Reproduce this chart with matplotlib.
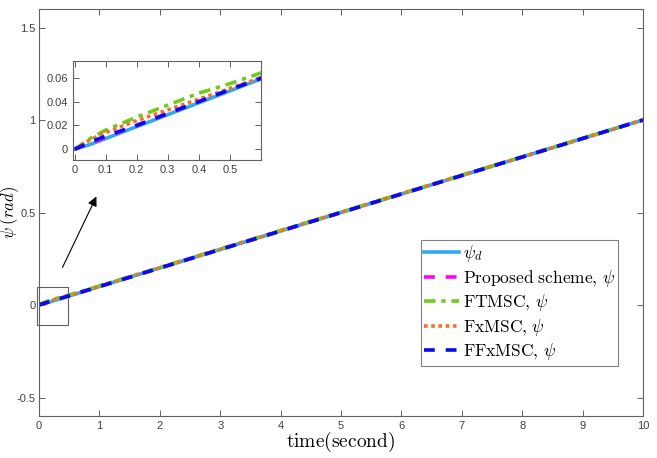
import matplotlib

matplotlib.use("Agg")
import matplotlib.pyplot as plt
from matplotlib.patches import Rectangle

plt.rcParams["font.family"] = ["Liberation Sans", "DejaVu Sans"]
plt.rcParams["mathtext.fontset"] = "cm"

# time samples (s) and heading angle (rad)
t = [0, 0.05, 0.1, 0.2, 0.3, 0.4, 0.5, 0.6, 1, 2, 3, 4, 5, 6, 7, 8, 9, 10]
psi_d = [0, 0.004, 0.009, 0.019, 0.029, 0.039, 0.049, 0.059,
         0.1, 0.2, 0.3, 0.4, 0.5, 0.6, 0.7, 0.8, 0.9, 1.0]
psi_prop = [0, 0.005, 0.010, 0.020, 0.030, 0.040, 0.050, 0.060,
            0.1, 0.2, 0.3, 0.4, 0.5, 0.6, 0.7, 0.8, 0.9, 1.0]
psi_ftmsc = [0, 0.009, 0.016, 0.027, 0.037, 0.047, 0.055, 0.064,
             0.103, 0.203, 0.303, 0.403, 0.502, 0.602, 0.702, 0.801, 0.901, 1.0]
psi_fxmsc = [0, 0.008, 0.014, 0.024, 0.033, 0.042, 0.051, 0.060,
             0.101, 0.201, 0.301, 0.401, 0.501, 0.601, 0.701, 0.8, 0.9, 1.0]
psi_ffxmsc = [0, 0.006, 0.011, 0.020, 0.030, 0.040, 0.050, 0.0595,
              0.1, 0.2, 0.3, 0.4, 0.5, 0.6, 0.7, 0.8, 0.9, 1.0]

SERIES = [
    (psi_d, "#2fa8f0", "-", r"$\psi_d$"),
    (psi_prop, "#ff00ff", (0, (3, 3)), r"$\mathrm{Proposed\ scheme,}\,\psi$"),
    (psi_ftmsc, "#6fcc1a", (0, (3.2, 1.6, 1.2, 1.6)), r"$\mathrm{FTMSC,}\,\psi$"),
    (psi_fxmsc, "#ff6a2a", (0, (1, 1)), r"$\mathrm{FxMSC,}\,\psi$"),
    (psi_ffxmsc, "#0a0af0", (0, (3, 3)), r"$\mathrm{FFxMSC,}\,\psi$"),
]
EDGE = "#606060"


def style_axes(ax, size):
    for s in ax.spines.values():
        s.set_color(EDGE)
        s.set_linewidth(0.8)
    ax.tick_params(direction="in", top=True, right=True, length=4,
                   width=0.7, color=EDGE, labelsize=size, labelcolor="#404040")


fig = plt.figure(figsize=(6.57, 4.58), dpi=100)
ax = fig.add_axes([39 / 657, 1 - 416 / 458, 604 / 657, 407 / 458])
for y, c, ls, lab in SERIES:
    ax.plot(t, y, color=c, ls=ls, lw=2.6, label=lab)
ax.set_xlim(0, 10)
ax.set_ylim(-0.6, 1.6)
ax.set_xticks(range(0, 11))
ax.set_yticks([-0.5, 0, 0.5, 1, 1.5])
ax.set_yticklabels(["-0.5", "0", "0.5", "1", "1.5"])
style_axes(ax, 8)
ax.tick_params(axis="y", pad=2.5)
ax.set_xlabel(r"$\mathrm{time(second)}$", fontsize=14, labelpad=-1)
ax.set_ylabel(r"$\psi\;(rad)$", fontsize=12)
ax.yaxis.set_label_coords(-0.029, 0.5)

leg = ax.legend(loc="upper left", bbox_to_anchor=(382 / 604, 1 - 231 / 407),
                fontsize=12.5, frameon=True, fancybox=False, handlelength=2.0,
                handletextpad=0.2, borderpad=0.2, labelspacing=0.2,
                borderaxespad=0)
leg.get_frame().set_edgecolor(EDGE)
leg.get_frame().set_linewidth(0.8)

# zoom box and arrow
ax.add_patch(Rectangle((-0.03, -0.11), 0.51, 0.21, fill=False,
                       ec=EDGE, lw=0.8, clip_on=False))
ax.annotate("", xy=(0.97, 0.6), xytext=(0.37, 0.19),
            arrowprops=dict(arrowstyle="-|>", color="black", lw=0.8,
                            mutation_scale=14))

ins = fig.add_axes([73 / 657, 1 - 160 / 458, 188 / 657, 99 / 458])
for y, c, ls, lab in SERIES:
    ins.plot(t, y, color=c, ls=ls, lw=2.6)
ins.set_xlim(-0.005, 0.6)
ins.set_ylim(-0.009, 0.074)
ins.set_xticks([0, 0.1, 0.2, 0.3, 0.4, 0.5])
ins.set_xticklabels(["0", "0.1", "0.2", "0.3", "0.4", "0.5"])
ins.set_yticks([0, 0.02, 0.04, 0.06])
ins.set_yticklabels(["0", "0.02", "0.04", "0.06"])
style_axes(ins, 8)

fig.savefig("out.png", dpi=100)
